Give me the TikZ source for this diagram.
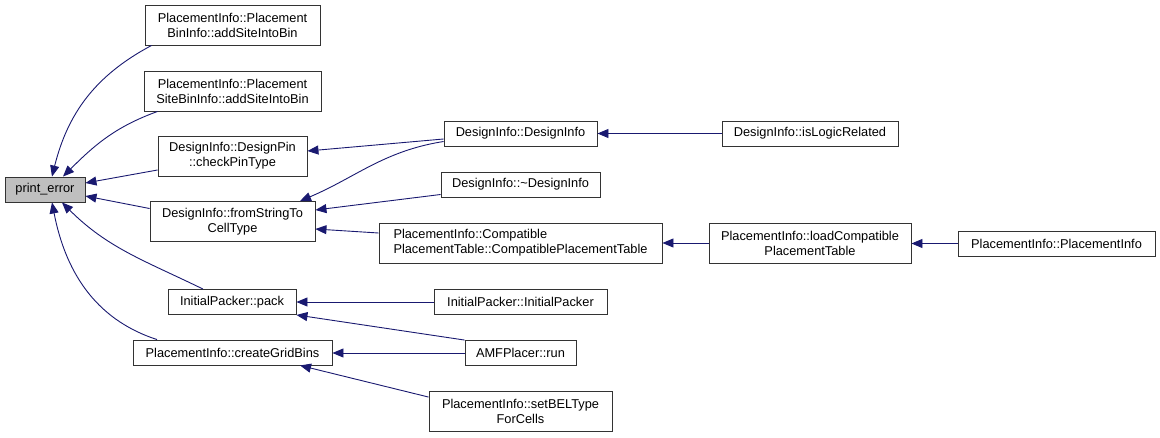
\documentclass[tikz,border=0pt]{standalone}
\usepackage{fontspec}
\setmainfont{Liberation Sans}
\usetikzlibrary{arrows.meta,calc}
\definecolor{edgeblue}{HTML}{191970}
\definecolor{rootgray}{HTML}{BFBFBF}

\begin{document}
\begin{tikzpicture}[x=1pt,y=-1pt,>={Triangle[length=11pt,width=9pt]},
  fn/.style={draw=black!80,line width=0.9pt,fill=white,inner sep=0pt,minimum height=25pt,align=center,font=\fontsize{12.8}{15}\selectfont},
  fntwo/.style={fn,minimum height=40pt},
  root/.style={fn,fill=rootgray},
  call/.style={->,draw=edgeblue,line width=0.9pt}]
\useasboundingbox (0,0) rectangle (1160,437);
% caller tree of print_error
\node[root,minimum width=80pt] (perr) at (45,189.5) {print\_error};
\node[fntwo,minimum width=175pt] (binA) at (232.5,25) {PlacementInfo::Placement\\BinInfo::addSiteIntoBin};
\node[fntwo,minimum width=177pt] (binB) at (232.5,91) {PlacementInfo::Placement\\SiteBinInfo::addSiteIntoBin};
\node[fntwo,minimum width=149pt] (chk) at (232.5,156) {DesignInfo::DesignPin\\::checkPinType};
\node[fntwo,minimum width=165pt] (fst) at (232.5,221.5) {DesignInfo::fromStringTo\\CellType};
\node[fn,minimum width=128pt] (pack) at (232,302) {InitialPacker::pack};
\node[fn,minimum width=199pt] (grid) at (232.5,352.5) {PlacementInfo::createGridBins};
\node[fn,minimum width=153pt] (dinfo) at (520.5,133.5) {DesignInfo::DesignInfo};
\node[fn,minimum width=159pt] (ddtor) at (520.5,184.5) {DesignInfo::\textasciitilde DesignInfo};
\node[fntwo,minimum width=283pt,align=left] (compat) at (520.5,243) {PlacementInfo::Compatible\\PlacementTable::CompatiblePlacementTable};
\node[fn,minimum width=173pt] (ipk) at (520.5,302) {InitialPacker::InitialPacker};
\node[fn,minimum width=111pt] (run) at (520.5,353) {AMFPlacer::run};
\node[fntwo,minimum width=183pt] (setbel) at (520.5,411.5) {PlacementInfo::setBELType\\ForCells};
\node[fn,minimum width=176pt] (islog) at (810,133.5) {DesignInfo::isLogicRelated};
\node[fntwo,minimum width=202pt] (loadc) at (810,243) {PlacementInfo::loadCompatible\\PlacementTable};
\node[fn,minimum width=197pt] (pinfo) at (1056.5,243.5) {PlacementInfo::PlacementInfo};

% edges into print_error
\draw[call] ($(binA.south west)+(7,0)$) to[out=208,in=76] ($(perr.north)+(7,0)$);
\draw[call] ($(binB.south west)+(14,0)$) to[out=200,in=45] ($(perr.north)+(18,0)$);
\draw[call] ($(chk.west)+(0,14)$) -- ($(perr.east)+(0,-6.5)$);
\draw[call] ($(fst.west)+(0,-13)$) -- ($(perr.east)+(0,6.5)$);
\draw[call] ($(pack.north)+(-29,0)$) to[out=154,in=-45] ($(perr.south)+(17,0)$);
\draw[call] ($(grid.north)+(-75.5,0)$) to[out=162,in=-79] ($(perr.south)+(7,0)$);
% second level
\draw[call] ($(dinfo.west)+(0,5.5)$) -- ($(chk.east)+(0,-5)$);
\draw[call] ($(dinfo.west)+(0,8)$) to[out=189,in=23] ($(fst.north)+(67.5,0)$);
\draw[call] ($(ddtor.west)+(0,10)$) -- ($(fst.east)+(0,-11.5)$);
\draw[call] ($(compat.west)+(0,-10)$) -- ($(fst.east)+(0,7.5)$);
\draw[call] (ipk) -- (pack);
\draw[call] (run.north west) -- (pack.south east);
\draw[call] (run.west) -- (run.west -| grid.east);
\draw[call] ($(setbel.north west)+(0,6)$) -- ($(grid.south)+(67.5,0)$);
% third level and beyond
\draw[call] (islog) -- (dinfo);
\draw[call] (loadc) -- (compat);
\draw[call] (pinfo.west) -- (pinfo.west -| loadc.east);
\end{tikzpicture}
\end{document}
